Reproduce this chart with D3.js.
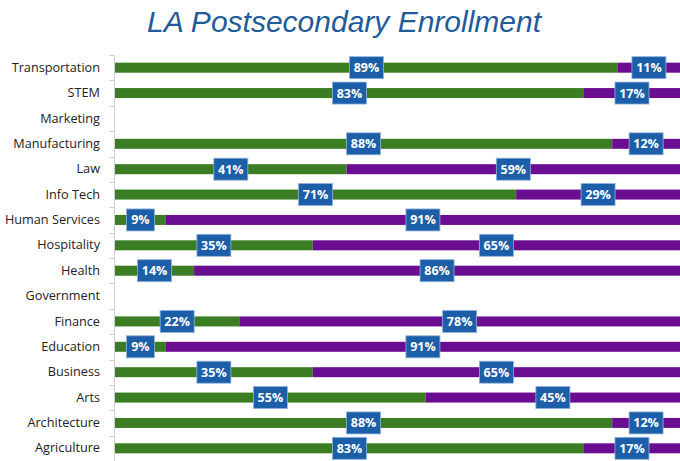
<!DOCTYPE html>
<html>
<head>
<meta charset="utf-8">
<script src="https://cdn.jsdelivr.net/npm/d3@7"></script>
<style>
  body { margin: 0; background: #fff; }
  svg { display: block; }
</style>
</head>
<body>
<script>
// LA Postsecondary Enrollment - 100% stacked horizontal bars

var categories = ["Transportation", "STEM", "Marketing", "Manufacturing", "Law", "Info Tech",
  "Human Services", "Hospitality", "Health", "Government", "Finance", "Education",
  "Business", "Arts", "Architecture", "Agriculture"];
// null = no data for that category
var greenValues = [89, 83, null, 88, 41, 71, 9, 35, 14, null, 22, 9, 35, 55, 88, 83];
var purpleValues = [11, 17, null, 12, 59, 29, 91, 65, 86, null, 78, 91, 65, 45, 12, 17];

var width = 680, height = 461;
var margin = {top: 55, right: 0, bottom: 0, left: 114};

var svg = d3.select("body").append("svg")
    .attr("width", width)
    .attr("height", height);

// title
svg.append("text")
    .attr("x", 344)
    .attr("y", 32)
    .attr("text-anchor", "middle")
    .attr("font-family", "Liberation Sans, Arial, sans-serif")
    .attr("font-style", "italic")
    .attr("font-size", "30px")
    .attr("fill", "#1f5b9a")
    .text("LA Postsecondary Enrollment");

var xScale = d3.scaleLinear().domain([0, 100]).range([margin.left + 1, width - margin.right]);
var yScale = d3.scaleBand().domain(categories).range([margin.top, height - margin.bottom]);

// axis line and category boundary ticks
var axisColor = "#d0d0d0";
svg.append("line")
    .attr("x1", margin.left + 0.5).attr("x2", margin.left + 0.5)
    .attr("y1", margin.top).attr("y2", height)
    .attr("stroke", axisColor);

svg.selectAll(".btick")
    .data(d3.range(categories.length + 1))
    .enter().append("line")
    .attr("class", "btick")
    .attr("x1", margin.left - 5).attr("x2", margin.left)
    .attr("y1", function(i) { return Math.round(margin.top + i * yScale.step()) + 0.5; })
    .attr("y2", function(i) { return Math.round(margin.top + i * yScale.step()) + 0.5; })
    .attr("stroke", axisColor);

// category labels
var yAxis = d3.axisLeft(yScale).tickSize(0).tickPadding(14);
var gy = svg.append("g")
    .attr("transform", "translate(" + margin.left + ",0)")
    .call(yAxis);
gy.select(".domain").remove();
gy.selectAll("text")
    .attr("font-family", "Open Sans, sans-serif")
    .attr("font-size", "12.7px")
    .attr("fill", "#222");

// stacked data
var rows = categories.map(function(c, i) {
  return {cat: c, green: greenValues[i], purple: purpleValues[i]};
}).filter(function(d) { return d.green !== null; });

var barH = 10;
var segments = [];
rows.forEach(function(d) {
  segments.push({cat: d.cat, x0: 0, x1: d.green, v: d.green, color: "#3a7d22"});
  segments.push({cat: d.cat, x0: d.green, x1: d.green + d.purple, v: d.purple, color: "#6a0d91"});
});

svg.selectAll(".seg")
    .data(segments)
    .enter().append("rect")
    .attr("class", "seg")
    .attr("x", function(d) { return xScale(d.x0); })
    .attr("width", function(d) { return xScale(d.x1) - xScale(d.x0); })
    .attr("y", function(d) { return yScale(d.cat) + yScale.bandwidth() / 2 - barH / 2; })
    .attr("height", barH)
    .attr("fill", function(d) { return d.color; });

// data labels in boxes
var labels = svg.selectAll(".lbl")
    .data(segments)
    .enter().append("g")
    .attr("class", "lbl")
    .attr("transform", function(d) {
      var cx = (xScale(d.x0) + xScale(d.x1)) / 2;
      var cy = yScale(d.cat) + yScale.bandwidth() / 2;
      return "translate(" + cx + "," + cy + ")";
    });

labels.append("rect")
    .attr("x", function(d) { return d.v < 10 ? -14 : -17; })
    .attr("y", -11)
    .attr("width", function(d) { return d.v < 10 ? 28 : 34; })
    .attr("height", 22)
    .attr("fill", "#1c5ea8")
    .attr("stroke", "#8fb4dc")
    .attr("stroke-width", 0.8);

labels.append("text")
    .attr("text-anchor", "middle")
    .attr("dy", "0.36em")
    .attr("font-family", "Open Sans, sans-serif")
    .attr("font-weight", "bold")
    .attr("font-size", "12.5px")
    .attr("fill", "#fff")
    .text(function(d) { return d.v + "%"; });
</script>
</body>
</html>
